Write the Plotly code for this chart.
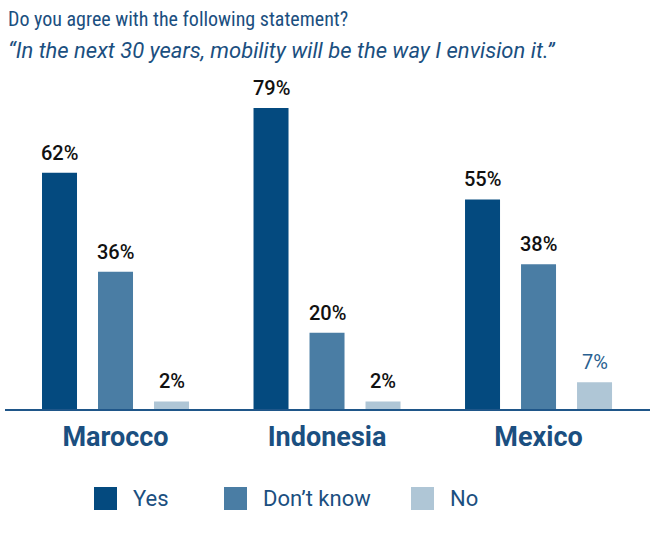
import plotly.graph_objects as go

countries = ["Marocco", "Indonesia", "Mexico"]
series_names = ["Yes", "Don\u2019t know", "No"]
yes_vals = [62, 79, 55]
dk_vals = [36, 20, 38]
no_vals = [2, 2, 7]
colors = ["#044a7f", "#4a7da4", "#afc6d6"]

title_text = "Do you agree with the following statement?"
subtitle_text = "\u201cIn the next 30 years, mobility will be the way I envision it.\u201d"

W, H = 651, 533
ml, mr, mt, mb = 5, 1, 80, 124
TXT = "#1b4f80"
SLOT = 56          # px between bars in a group

fig = go.Figure()
all_vals = [yes_vals, dk_vals, no_vals]
for name, vals, col in zip(series_names, all_vals, colors):
    fig.add_trace(go.Bar(
        x=countries, y=vals, name=name, marker_color=col, marker_line_width=0,
        showlegend=False,
    ))

# value labels
for si, (name, vals) in enumerate(zip(series_names, all_vals)):
    for c, v in zip(countries, vals):
        special = (c == "Mexico" and name == "No")
        fig.add_annotation(
            x=c, y=v, xref="x", yref="y", text=f"{v}%", showarrow=False,
            xanchor="center", yanchor="bottom", xshift=(si - 1) * SLOT, yshift=6,
            font=dict(family="Roboto", size=20,
                      color="#2a5f90" if special else "#111111",
                      weight=400 if special else 500),
        )

fig.update_layout(
    width=W, height=H,
    margin=dict(l=ml, r=mr, t=mt, b=mb),
    paper_bgcolor="white", plot_bgcolor="white",
    barmode="group", bargap=0.2057, bargroupgap=0.375,
    font=dict(family="Roboto", color=TXT),
    xaxis=dict(range=[-0.5225, 2.527], showline=True, linecolor="#1f5689", linewidth=2,
               ticks="", showgrid=False, ticklabelstandoff=3,
               tickfont=dict(family="Roboto", size=27, color=TXT, weight="bold")),
    yaxis=dict(range=[0, 86.35], visible=False, showgrid=False),
)

# titles
fig.add_annotation(text=title_text, xref="paper", yref="paper", x=0, y=1, xshift=1,
                   yshift=(mt - 19), xanchor="left", yanchor="middle", showarrow=False,
                   font=dict(family="Liberation Sans Narrow, Roboto Condensed, Arial Narrow", size=20, color=TXT))
fig.add_annotation(text=f"<i>{subtitle_text}</i>", xref="paper", yref="paper", x=0, y=1, xshift=1,
                   yshift=(mt - 50), xanchor="left", yanchor="middle", showarrow=False,
                   font=dict(family="Roboto", size=22, color=TXT))

# custom legend (large squares)
pw = W - ml - mr
ph = H - mt - mb
def px_x(p):
    return (p - ml) / pw
def px_y(p):
    return (H - mb - p) / ph
leg_sq = [94, 224, 411]
leg_tx = [131, 261, 448]
for name, col, sx, tx in zip(series_names, colors, leg_sq, leg_tx):
    fig.add_shape(type="rect", xref="paper", yref="paper",
                  x0=px_x(sx), x1=px_x(sx + 23), y0=px_y(510), y1=px_y(487),
                  fillcolor=col, line_width=0)
    fig.add_annotation(text=name, xref="paper", yref="paper", x=px_x(tx), y=px_y(498.5),
                       xanchor="left", yanchor="middle", showarrow=False,
                       font=dict(family="Roboto", size=22, color=TXT))

fig.write_html("out.html")
